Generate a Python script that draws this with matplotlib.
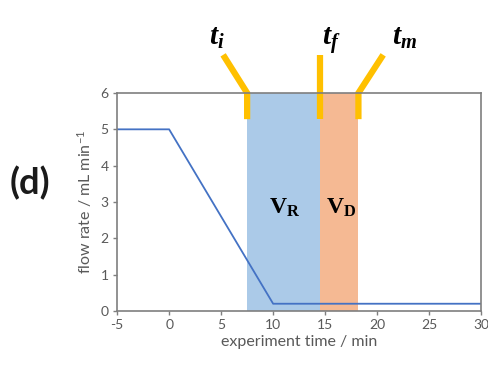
import matplotlib
matplotlib.use("Agg")
import matplotlib.pyplot as plt

plt.rcParams['mathtext.fontset'] = 'custom'
plt.rcParams['mathtext.it'] = 'Liberation Serif:italic:bold'
plt.rcParams['mathtext.rm'] = 'Liberation Serif:bold'
plt.rcParams['mathtext.bf'] = 'Liberation Serif:bold'
plt.rcParams['axes.unicode_minus'] = False

# data
time = [-5, 0, 10, 30]
flow = [5, 5, 0.2, 0.2]
t_i, t_f, t_m = 7.5, 14.5, 18.2
xticks = [-5, 0, 5, 10, 15, 20, 25, 30]
yticks = [0, 1, 2, 3, 4, 5, 6]

gray = '#7f7f7f'
txtgray = '#595959'
fig = plt.figure(figsize=(4.88, 3.67), dpi=100)
ax = fig.add_axes([0.24, 0.1526, 0.746, 0.594])

ax.axvspan(t_i, t_f, color='#abcae8', lw=0)
ax.axvspan(t_f, t_m, color='#f5b993', lw=0)
ax.plot(time, flow, color='#4472c4', lw=1.3)

ax.set_xlim(-5, 30)
ax.set_ylim(0, 6)
ax.set_xticks(xticks)
ax.set_yticks(yticks)
for s in ax.spines.values():
    s.set_color(gray)
    s.set_linewidth(1.2)
ax.tick_params(direction='out', length=3, width=1, colors=gray, labelcolor=txtgray,
               labelsize=10, pad=3)
for lab in ax.get_xticklabels() + ax.get_yticklabels():
    lab.set_family('Lato')
ax.set_xlabel('experiment time / min', fontsize=11.5, color=txtgray, family='Lato', labelpad=3)
ax.set_ylabel('flow rate / mL min$^{\\mathregular{-1}}$', fontsize=11.5, color=txtgray,
              family='Lato', labelpad=5)

# yellow markers
yel = '#ffc000'
lw = 4.5
ytop = 7.05
ybot = 5.28
ax.plot([t_i, t_i, 5.19], [ybot, 6.0, ytop], color=yel, lw=lw, clip_on=False,
        solid_capstyle='butt', solid_joinstyle='miter')
ax.plot([t_f, t_f], [ybot, ytop], color=yel, lw=lw, clip_on=False, solid_capstyle='butt')
ax.plot([t_m, t_m, 20.58], [ybot, 6.0, ytop], color=yel, lw=lw, clip_on=False,
        solid_capstyle='butt', solid_joinstyle='miter')

ax.text(4.6, 7.32, r'$t_i$', fontsize=21, ha='center', va='baseline', clip_on=False)
ax.text(15.6, 7.32, r'$t_f$', fontsize=21, ha='center', va='baseline', clip_on=False)
ax.text(22.6, 7.32, r'$t_m$', fontsize=21, ha='center', va='baseline', clip_on=False)

ax.text(11.15, 2.86, r'$\mathrm{V_R}$', fontsize=17, ha='center', va='center')
ax.text(16.5, 2.86, r'$\mathrm{V_D}$', fontsize=17, ha='center', va='center')

fig.text(0.061, 0.50, '(d)', fontsize=26, fontweight='bold', family='Lato',
         ha='center', va='center', color='#1a1a1a')

fig.savefig('out.png', dpi=100)
